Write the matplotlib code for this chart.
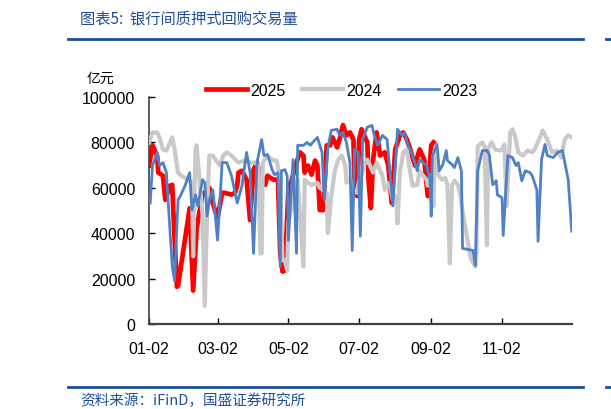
import matplotlib
matplotlib.use("Agg")
import matplotlib.pyplot as plt
from matplotlib.lines import Line2D

plt.rcParams['font.family'] = ['Liberation Sans', 'Noto Sans CJK SC', 'DejaVu Sans']

# x = days since Jan 2 ; y = 亿元
red_days = [0, 3, 7, 8, 12, 14, 18, 20, 21, 24, 25, 35, 38, 41, 46, 52, 54, 59, 63, 65, 71, 74, 76, 77, 80, 84,
            87, 90, 93, 94, 100, 102, 107, 111, 113, 115, 117, 120, 123, 127, 130, 133, 134, 137, 140, 143, 145,
            147, 150, 153, 156, 158, 162, 164, 167, 170, 173, 176, 177, 179, 181, 183, 188, 189, 191, 193, 196,
            199, 203, 206, 209, 212, 216, 219, 222, 225, 229, 233, 237, 240, 243, 245]
red_vals = [69800, 78700, 74000, 66700, 65300, 54700, 60900, 61300, 48900, 16400, 16900, 51000, 14700, 42000,
            57000, 60000, 54700, 46700, 57800, 57800, 57000, 57800, 61300, 66700, 67500, 63600,
            45800, 68000, 71100, 68900, 61300, 65300, 63600, 63600, 31100, 23100, 23600, 59100, 63600, 71100,
            75600, 74200, 66700, 69800, 65800, 72000, 69800,
            50200, 50200, 78700, 78700, 82200, 77800, 81300, 87600, 83100, 84400, 81300, 63600, 56400, 81300,
            85800, 80000, 63600, 51100, 72400, 84400,
            74200, 75600, 69800, 53300, 76900, 83100, 84400, 81300, 76900, 69800, 76900, 72400, 56400, 78700, 80000]

grey_days = [0, 3, 7, 9, 12, 15, 20, 22, 25, 28, 33, 37, 38, 40, 41, 44, 46, 48, 50, 51, 52, 55, 59, 61, 64, 67,
             71, 77, 83, 87, 91, 94, 96, 97, 98, 102, 107, 110, 113, 115, 117, 119, 120, 123, 126, 128, 133, 134,
             137, 140, 145, 147, 150, 153, 154, 157, 160, 163, 166, 169, 170, 173, 176, 179, 181, 183, 186, 188,
             193, 196, 201, 203, 207, 210, 213, 214, 216, 219, 222, 225, 227, 231, 233, 236, 239, 240, 243, 245,
             246, 249, 252, 255, 257, 259, 261, 263, 266, 268, 271, 277, 281, 282, 283, 287, 289, 291, 292, 295,
             298, 302, 304, 306, 308,
             311, 313, 315, 318, 322, 326, 330, 332, 336, 339, 343, 347, 351, 355, 358, 361, 364]
grey_vals = [80000, 84400, 84400, 82200, 76900, 76400, 82200, 76900, 66700, 65300, 63600, 62200, 29800, 76900,
             78700, 60000, 48900, 8000, 48900, 63600, 74200, 74200, 71100, 69800, 74200, 75600,
             74200, 71100, 72000, 71100, 71100, 69800, 31100, 31100, 71100, 74200, 72000, 72000, 63600, 28000,
             28000, 23600, 45000, 52000, 63600, 63600, 25300, 63600,
             62200, 61300, 62200, 60000, 59100, 57800, 40000, 56400, 67500, 72400, 74200, 69800, 62200, 63600,
             59100, 57800, 63600, 65800, 71100, 72400,
             66700, 71100, 65300, 59100, 62200, 54700, 56400, 44400, 66700, 75600, 76900, 66700, 60900, 61300,
             67500, 65300, 63600, 60900, 65300, 52000,
             76400, 65800, 63600, 64400, 61300, 26700, 61300, 63100, 61300, 56900, 46700, 28900, 25300, 32000,
             78200, 80000, 78200, 34700, 77300, 80000,
             76900, 76400, 76900, 79100, 52000,
             84400, 85800, 83100, 75600, 74200, 76400, 75600, 76900, 81300, 85300, 81300, 75600, 76400, 73300,
             81300, 83100, 82200]

blue_days = [1, 3, 7, 9, 12, 15, 16, 20, 22, 25, 27, 31, 35, 37, 40, 42, 46, 48, 50, 52, 55, 59, 63, 67, 71, 76,
             80, 84, 87, 90, 93, 97, 99, 102, 106, 108, 111, 113, 114, 117, 119, 120, 124, 127, 128, 133, 136,
             139, 141, 145, 149, 151, 154, 157, 162, 164, 167, 170, 173, 175, 177, 180, 182, 184, 188, 192, 194,
             197, 201, 205, 207, 210, 214, 218, 220, 223, 226, 231, 233, 236, 239, 242, 243, 244, 248, 250, 253,
             256, 257, 261, 263, 266, 269, 270, 279, 281, 283, 287, 291, 293, 296, 299, 300, 304, 305, 309, 313,
             316, 318, 321, 324, 328, 330, 334, 335, 338, 341, 343, 348, 352, 356, 361, 364]
blue_vals = [53300, 69800, 75600, 69800, 71100, 66700, 57800, 25300, 19100, 54700, 56400, 60900, 66700, 50200,
             56900, 52000, 63600, 62200, 47500, 54700, 59100, 36900, 71100, 71100, 65300, 53300,
             60900, 75600, 66700, 31100, 71100, 81300, 74200, 74700, 68000, 65800, 66700, 25300, 67500, 68000,
             65300, 36900, 72400, 31100, 78700, 78700, 80000,
             78700, 80000, 82200, 75600, 54700, 77800, 85300, 85800, 83100, 84400, 80000, 71100, 32400, 76900,
             75600, 38700, 81300, 86700, 87500, 83100,
             78700, 83100, 81300, 69800, 52000, 85800, 83100, 84400, 78700, 75600, 67500, 72400, 71100, 69800,
             63600, 47500, 74200, 79100, 67500, 70200,
             76400, 72000, 70200, 68900, 73300, 67500, 33300, 32400, 25800, 67500, 76400, 76400, 74700, 61300,
             63100, 56900, 55600, 39000, 74200, 73300,
             69800, 71100, 63100, 67500, 66700, 65300, 59100, 36400, 72400, 79100, 74200, 73300, 75600, 76400,
             63600, 40900]

tick_days = [0, 59, 120, 181, 243, 304]
tick_labels = ['01-02', '03-02', '05-02', '07-02', '09-02', '11-02']
series_names = ['2025', '2024', '2023']

fig = plt.figure(figsize=(6.11, 4.10), dpi=100)
ax = fig.add_axes([0.2439, 0.2073, 0.6918, 0.5537])

l1, = ax.plot(red_days, red_vals, color='#ff0000', lw=3.4, solid_joinstyle='round', zorder=2)
l2, = ax.plot(grey_days, grey_vals, color='#c9c9c9', lw=3.0, solid_joinstyle='round', zorder=3)
l3, = ax.plot(blue_days, blue_vals, color='#4f81c4', lw=2.0, solid_joinstyle='round', zorder=4)

ax.set_xlim(0, 364)
ax.set_ylim(0, 100000)
ax.set_yticks(range(0, 100001, 20000))
ax.set_yticklabels([str(v) for v in range(0, 100001, 20000)])
ax.set_xticks(tick_days)
ax.set_xticklabels(tick_labels)
ax.tick_params(axis='both', direction='in', labelsize=11.5, colors='#000000', length=4, width=1)
ax.tick_params(axis='y', pad=10)
ax.tick_params(axis='x', pad=12)
for s in ['top', 'right']:
    ax.spines[s].set_visible(False)
ax.spines['left'].set_color('#404040')
ax.spines['left'].set_linewidth(1.2)
ax.spines['bottom'].set_color('#404040')
ax.spines['bottom'].set_linewidth(1.6)

fig.legend([l1, l2, l3], series_names, loc='center', bbox_to_anchor=(0.559, 0.778), ncol=3,
           frameon=False, fontsize=11.5, handlelength=2.6, handletextpad=0.15, columnspacing=1.05)

fig.text(0.164, 0.808, '亿元', fontsize=10, family=['Noto Sans CJK SC'], ha='center', va='center')

title_color = '#1f4e9a'
fig.text(0.131, 0.953, '图表5:  银行间质押式回购交易量', fontsize=11, color=title_color,
         family=['Noto Sans CJK SC', 'DejaVu Sans'], ha='left', va='center', style='italic')
fig.text(0.131, 0.022, '资料来源：iFinD，国盛证券研究所', fontsize=10.5, color=title_color,
         family=['Noto Sans CJK SC', 'DejaVu Sans'], ha='left', va='center', style='italic')

for yy in [1 - 40 / 410, 1 - 388 / 410]:
    fig.add_artist(Line2D([68 / 611, 583 / 611], [yy, yy], color='#1f4e9a', lw=2.0))
    fig.add_artist(Line2D([606 / 611, 611 / 611], [yy, yy], color='#1f4e9a', lw=2.0))

fig.savefig('out.png', dpi=100)
